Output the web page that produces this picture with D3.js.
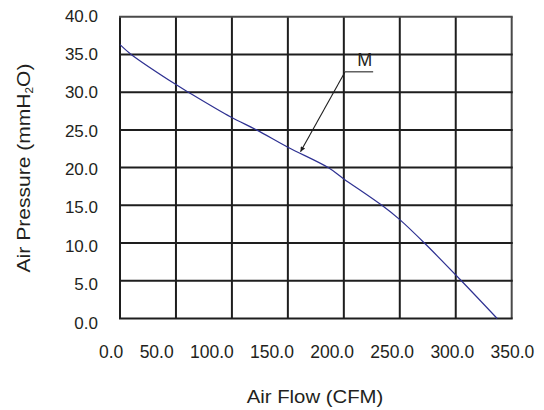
<!DOCTYPE html>
<html>
<head>
<meta charset="utf-8">
<script src="https://cdn.jsdelivr.net/npm/d3@7"></script>
<style>
  body { margin: 0; background: #fff; }
  text { font-family: "Liberation Sans", Arial, sans-serif; fill: #231f20; }
</style>
</head>
<body>
<div id="chart"></div>
<script>
// curve
const flow = [0, 10, 50, 61, 99, 122, 150, 186, 200, 234, 250, 272, 305, 337];
const pressure = [36.3, 35, 31, 30, 26.7, 25, 22.7, 20, 18.5, 15, 13.1, 10, 5, 0];

const xTicks = [0, 50, 100, 150, 200, 250, 300, 350];
const yTicks = [0, 5, 10, 15, 20, 25, 30, 35, 40];

// annotation "M": label, underline and arrow tip in data units
const markLabel = "M";
const markText = [218.8, 33.5];
const markLine = [[200.9, 32.7], [226.2, 32.7]];
const markTip = [161.3, 22.1];

const width = 544;
const height = 410;
const margin = { top: 16.7, left: 120, bottom: 91.5, right: 32.3 };
const iwidth = width - margin.left - margin.right;
const iheight = height - margin.top - margin.bottom;

const svg = d3.select("#chart").append("svg")
  .attr("width", width)
  .attr("height", height);

const x = d3.scaleLinear().domain([0, 350]).range([margin.left, margin.left + iwidth]);
const y = d3.scaleLinear().domain([0, 40]).range([margin.top + iheight, margin.top]);

// grid
const grid = svg.append("g");
grid.selectAll(".v").data(xTicks).enter().append("line")
  .attr("x1", d => x(d)).attr("x2", d => x(d))
  .attr("y1", y(0)).attr("y2", y(40))
  .attr("stroke", d => d === 350 ? "#4a4a4a" : "#1e1e1e")
  .attr("stroke-width", 2);
grid.selectAll(".h").data(yTicks).enter().append("line")
  .attr("x1", x(0) - 1).attr("x2", x(350) + 1)
  .attr("y1", d => y(d)).attr("y2", d => y(d))
  .attr("stroke", d => d === 40 ? "#4a4a4a" : "#1e1e1e")
  .attr("stroke-width", 2);

// y labels (they drift a little from the grid lines in the original)
const yLab = d3.scaleLinear().domain([0, 40]).range([y(0) + 10, y(40) + 5]);
svg.append("g").selectAll("text").data(yTicks).enter().append("text")
  .attr("x", x(0) - 22)
  .attr("y", d => yLab(d))
  .attr("text-anchor", "end")
  .attr("font-size", 17)
  .text(d => d.toFixed(1));

// x labels are set as one run of text, so they do not sit on the grid lines
const xl = svg.append("g");
let cursor = x(0) - 21;
xTicks.forEach(d => {
  const t = xl.append("text")
    .attr("x", cursor)
    .attr("y", 358.3)
    .attr("font-size", 17.5)
    .text(d.toFixed(1));
  cursor += t.node().getComputedTextLength() + 16.3;
});

// curve
const line = d3.line()
  .x((d, i) => x(flow[i]))
  .y(d => y(d))
  .curve(d3.curveCatmullRom.alpha(0.5));
svg.append("path")
  .datum(pressure)
  .attr("d", line)
  .attr("fill", "none")
  .attr("stroke", "#2e3192")
  .attr("stroke-width", 1.2);

// annotation
svg.append("defs").append("marker")
  .attr("id", "head")
  .attr("viewBox", "0 0 10 10")
  .attr("refX", 10).attr("refY", 5)
  .attr("markerWidth", 12).attr("markerHeight", 5)
  .attr("markerUnits", "userSpaceOnUse")
  .attr("orient", "auto")
  .append("path")
  .attr("d", "M0,0 L10,5 L0,10 Z")
  .attr("fill", "#1e1e1e");

svg.append("line")
  .attr("x1", x(markLine[0][0])).attr("y1", y(markLine[0][1]))
  .attr("x2", x(markLine[1][0])).attr("y2", y(markLine[1][1]))
  .attr("stroke", "#555").attr("stroke-width", 1.4);
svg.append("line")
  .attr("x1", x(markLine[0][0])).attr("y1", y(markLine[0][1]) + 0.5)
  .attr("x2", x(markTip[0])).attr("y2", y(markTip[1]))
  .attr("stroke", "#1e1e1e").attr("stroke-width", 1.1)
  .attr("marker-end", "url(#head)");
svg.append("text")
  .attr("x", x(markText[0])).attr("y", y(markText[1]))
  .attr("text-anchor", "middle")
  .attr("font-size", 18)
  .attr("fill", "#3a3a3a")
  .text(markLabel);

// axis titles
svg.append("text")
  .attr("transform", "translate(315,402.7) scale(1.13,1)")
  .attr("text-anchor", "middle")
  .attr("font-size", 18)
  .text("Air Flow (CFM)");

const yt = svg.append("text")
  .attr("transform", "translate(30,168) rotate(-90) scale(1.17,1)")
  .attr("text-anchor", "middle")
  .attr("font-size", 18);
yt.append("tspan").text("Air Pressure (mmH");
yt.append("tspan").attr("font-size", 10).attr("dy", 3).text("2");
yt.append("tspan").attr("dy", -3).text("O)");
</script>
</body>
</html>
